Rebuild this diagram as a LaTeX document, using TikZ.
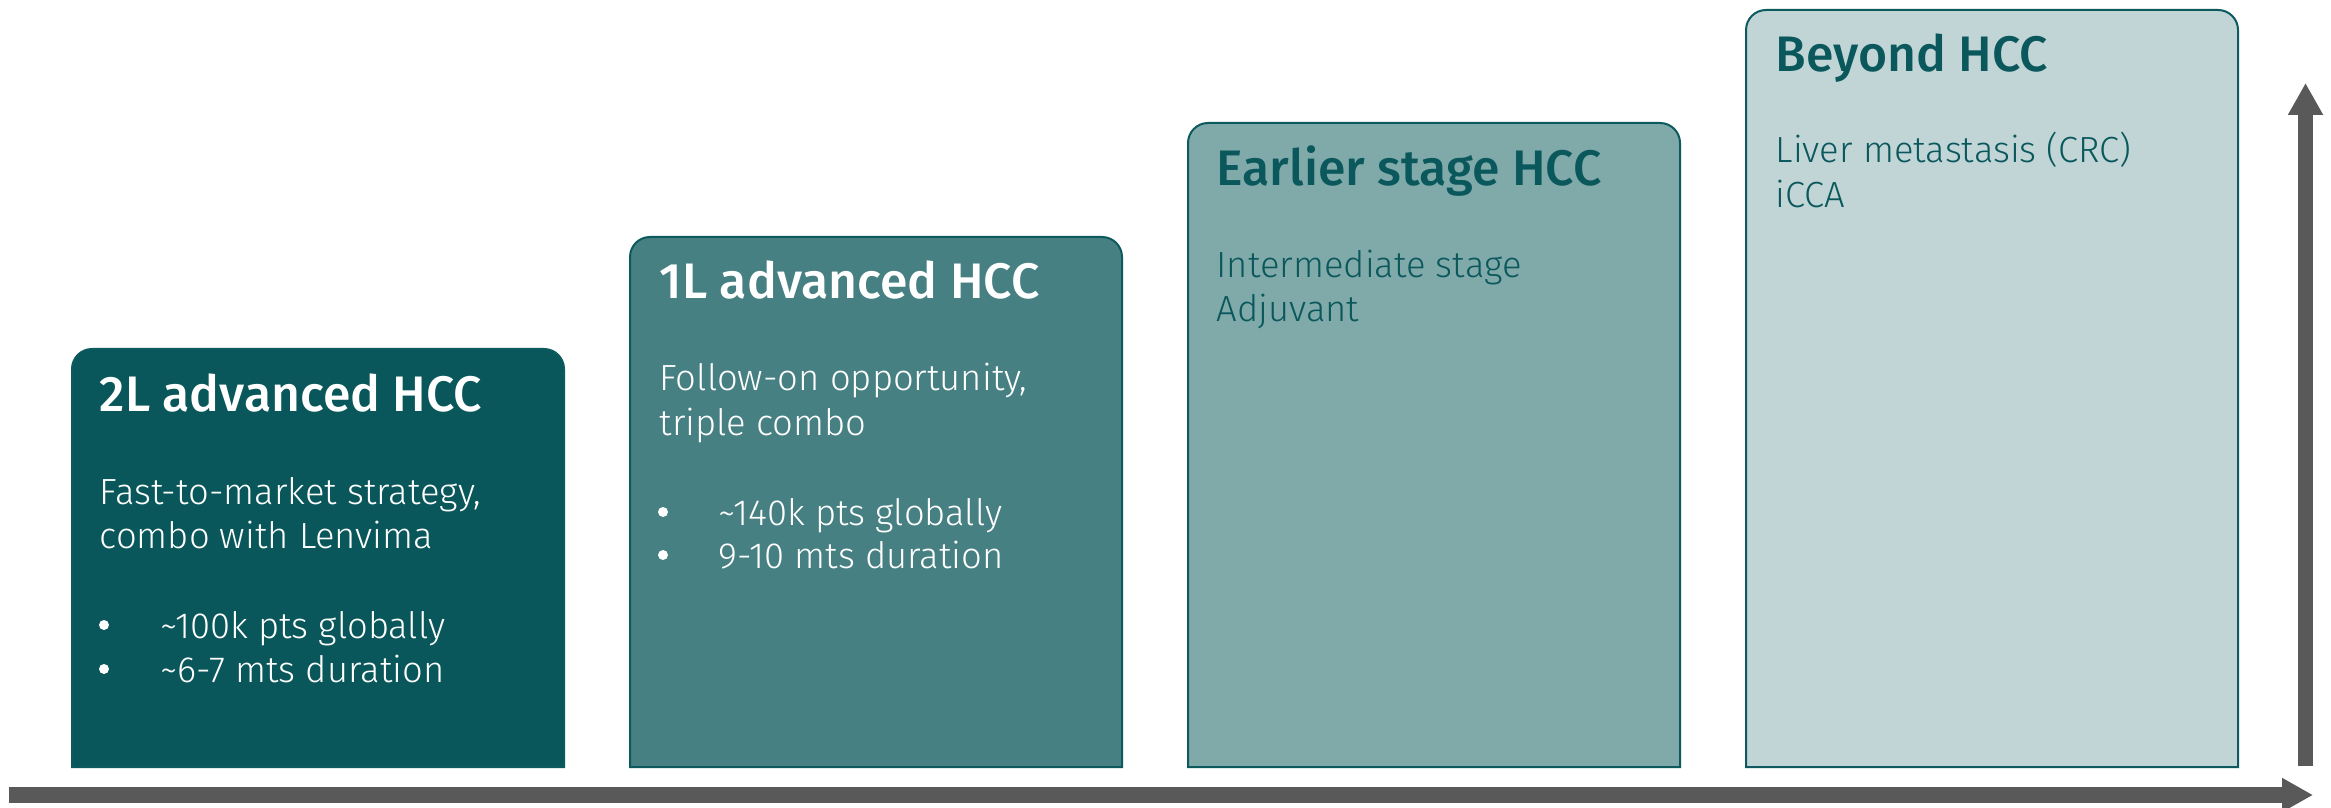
\documentclass[tikz,border=0pt]{standalone}
\usepackage{fontspec}
\setmainfont{Fira Sans}[UprightFont=* Light, BoldFont=* Medium]
\usetikzlibrary{arrows.meta}

\definecolor{tealA}{RGB}{9,87,90}
\definecolor{tealB}{RGB}{71,128,130}
\definecolor{tealC}{RGB}{128,169,170}
\definecolor{tealD}{RGB}{193,213,215}
\definecolor{edgeteal}{RGB}{12,90,94}
\definecolor{inkteal}{RGB}{10,88,92}
\definecolor{axisgray}{RGB}{89,89,89}

% stage column: left x, top y, fill colour (bottom edge is shared)
\newcommand\stagebox[3]{%
  \draw[edgeteal, line width=0.2mm, fill=#3]
    (#1,767) -- (#1,#2+20) arc[start angle=180, end angle=90, radius=2mm]
    -- (#1+472,#2) arc[start angle=90, end angle=0, radius=2mm]
    -- (#1+492,767) -- cycle;}

\tikzset{
  title/.style={anchor=base west, inner sep=0pt, font=\fontsize{14.2pt}{17pt}\selectfont\bfseries},
  body/.style={anchor=base west, inner sep=0pt, font=\fontsize{10.35pt}{12.5pt}\selectfont},
  dot/.style={circle, fill=white, inner sep=0pt, minimum size=1mm},
  axisarrow/.style={axisgray, line width=1.55mm}
}

\begin{document}
\begin{tikzpicture}[x=0.1mm, y=-0.1mm]
\useasboundingbox (0,0) rectangle (2331,808);

% columns
\stagebox{72}{349}{tealA}
\stagebox{630}{237}{tealB}
\stagebox{1188}{123}{tealC}
\stagebox{1746}{10}{tealD}

% 2L advanced HCC
\node[title, white] (t1) at (99,411) {2L advanced HCC};
\node[body, white] (a1) at (99,504) {Fast-to-market strategy,};
\node[body, white] (a2) at (99,548) {combo with Lenvima};
\node[dot] (d1) at (104,625) {};
\node[body, white] (b1) at (160,638) {\textasciitilde100k pts globally};
\node[dot] (d2) at (104,669) {};
\node[body, white] (b2) at (160,682) {\textasciitilde6-7 mts duration};

% 1L advanced HCC
\node[title, white] (t2) at (659,299) {1L advanced HCC};
\node[body, white] (c1) at (659,390) {Follow-on opportunity,};
\node[body, white] (c2) at (659,435) {triple combo};
\node[dot] (d3) at (663,512) {};
\node[body, white] (e1) at (718,525) {\textasciitilde140k pts globally};
\node[dot] (d4) at (663,555) {};
\node[body, white] (e2) at (718,568) {9-10 mts duration};

% Earlier stage HCC
\node[title, inkteal] (t3) at (1216,186) {Earlier stage HCC};
\node[body, inkteal] (f1) at (1216,278) {Intermediate stage};
\node[body, inkteal] (f2) at (1216,322) {Adjuvant};

% Beyond HCC
\node[title, inkteal] (t4) at (1775,72) {Beyond HCC};
\node[body, inkteal] (g1) at (1775,163) {Liver metastasis (CRC)};
\node[body, inkteal] (g2) at (1775,208) {iCCA};

% axes
\coordinate (xfrom) at (9,795);
\coordinate (xto) at (2313,795);
\coordinate (yfrom) at (2305.5,766);
\coordinate (yto) at (2305.5,83);
\draw[axisarrow, -{Triangle[length=3.1mm, width=3.2mm]}] (xfrom) -- (xto);
\draw[axisarrow, -{Triangle[length=3.2mm, width=3.3mm]}] (yfrom) -- (yto);
\end{tikzpicture}
\end{document}
